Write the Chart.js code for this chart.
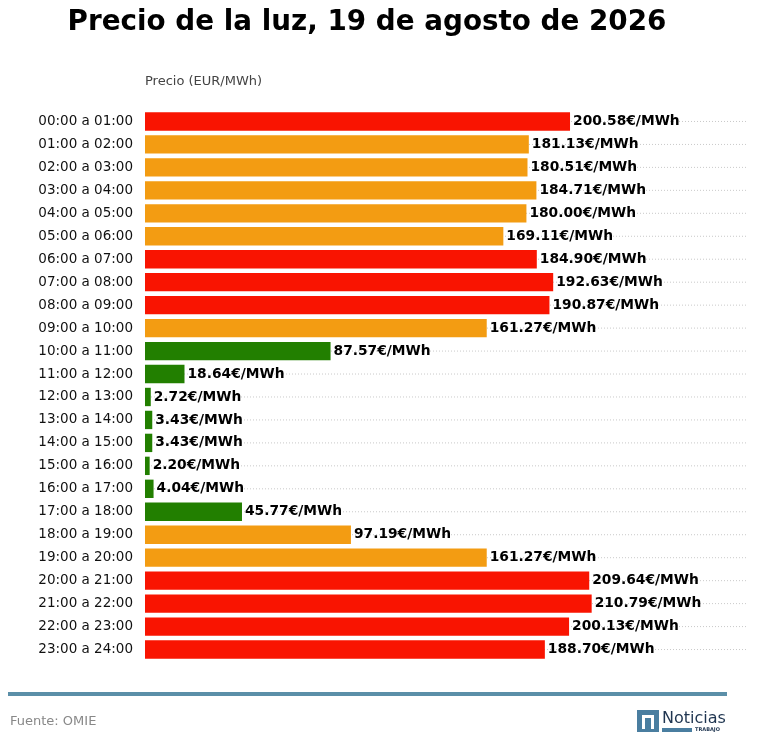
<!DOCTYPE html>
<html>
<head>
<meta charset="utf-8">
<script src="https://cdn.jsdelivr.net/npm/chart.js@4/dist/chart.umd.min.js"></script>
<style>
  html, body { margin: 0; padding: 0; background: #fff; }
  #wrap { width: 758px; height: 755px; position: relative; }
</style>
</head>
<body>
<div id="wrap"><canvas id="myChart"></canvas></div>
<script>
const hours = ['00:00 a 01:00','01:00 a 02:00','02:00 a 03:00','03:00 a 04:00','04:00 a 05:00','05:00 a 06:00',
  '06:00 a 07:00','07:00 a 08:00','08:00 a 09:00','09:00 a 10:00','10:00 a 11:00','11:00 a 12:00',
  '12:00 a 13:00','13:00 a 14:00','14:00 a 15:00','15:00 a 16:00','16:00 a 17:00','17:00 a 18:00',
  '18:00 a 19:00','19:00 a 20:00','20:00 a 21:00','21:00 a 22:00','22:00 a 23:00','23:00 a 24:00'];
const prices = [200.58,181.13,180.51,184.71,180.00,169.11,184.90,192.63,190.87,161.27,87.57,18.64,
  2.72,3.43,3.43,2.20,4.04,45.77,97.19,161.27,209.64,210.79,200.13,188.70];
const levels = ['high','mid','mid','mid','mid','mid','high','high','high','mid','low','low',
  'low','low','low','low','low','low','mid','mid','high','high','high','high'];
const levelColors = { high: '#f91401', mid: '#f39c12', low: '#227f00' };

const FONT = '"DejaVu Sans", sans-serif';

const decorPlugin = {
  id: 'decor',
  afterDraw(chart) {
    const ctx = chart.ctx;
    ctx.save();
    // title
    ctx.fillStyle = '#000';
    ctx.font = 'bold 27.8px ' + FONT;
    ctx.textAlign = 'center';
    ctx.textBaseline = 'middle';
    ctx.fillText('Precio de la luz, 19 de agosto de 2026', 367, 23);
    // axis caption
    ctx.font = '13px ' + FONT;
    ctx.fillStyle = '#444';
    ctx.textAlign = 'left';
    ctx.fillText('Precio (EUR/MWh)', 145, 82);
    // value labels
    const meta = chart.getDatasetMeta(0);
    ctx.font = 'bold 13.8px ' + FONT;
    ctx.fillStyle = '#000';
    meta.data.forEach((bar, i) => {
      ctx.fillText(prices[i].toFixed(2) + '€/MWh', bar.x + 3, bar.y);
    });
    // footer line
    ctx.strokeStyle = '#5b8fa8';
    ctx.lineWidth = 4;
    ctx.beginPath();
    ctx.moveTo(8, 694);
    ctx.lineTo(727, 694);
    ctx.stroke();
    ctx.font = '13px ' + FONT;
    ctx.fillStyle = '#888';
    ctx.fillText('Fuente: OMIE', 10, 722);
    // logo
    ctx.fillStyle = '#4a7ea0';
    ctx.fillRect(637, 710, 22, 22);
    ctx.fillStyle = '#fff';
    ctx.fillRect(642, 715, 12, 3);
    ctx.fillRect(642, 715, 3, 14);
    ctx.fillRect(651, 715, 3, 14);
    ctx.fillStyle = '#1f3550';
    ctx.font = '16px ' + FONT;
    ctx.fillText('Noticias', 662, 719);
    ctx.fillStyle = '#4a7ea0';
    ctx.fillRect(662, 728, 30, 4);
    ctx.fillStyle = '#1f3550';
    ctx.font = 'bold 5px ' + FONT;
    ctx.fillText('TRABAJO', 695, 730);
    ctx.restore();
  }
};

const ctx = document.getElementById('myChart').getContext('2d');
new Chart(ctx, {
  type: 'bar',
  data: {
    labels: hours,
    datasets: [{
      data: prices,
      backgroundColor: levels.map(l => levelColors[l]),
      borderWidth: 0,
      categoryPercentage: 1,
      barPercentage: 0.8
    }]
  },
  options: {
    indexAxis: 'y',
    responsive: true,
    maintainAspectRatio: false,
    animation: false,
    layout: { padding: { top: 110, bottom: 94, left: 0, right: 10 } },
    scales: {
      x: {
        display: false,
        min: 0,
        max: Math.max(...prices) * 1.35
      },
      y: {
        afterFit(scale) { scale.width = 145; },
        border: { display: false },
        grid: { display: false },
        ticks: {
          color: '#111',
          padding: 4,
          font: { family: FONT, size: 13.5 }
        }
      }
    },
    plugins: {
      legend: { display: false },
      tooltip: { enabled: false }
    }
  },
  plugins: [{
    id: 'dotted',
    beforeDatasetsDraw(chart) {
      const g = chart.ctx;
      g.save();
      g.strokeStyle = '#bbb';
      g.lineWidth = 0.8;
      g.setLineDash([1, 2]);
      chart.scales.y.ticks.forEach((t, i) => {
        const y = chart.scales.y.getPixelForTick(i);
        g.beginPath();
        g.moveTo(chart.chartArea.left, y);
        g.lineTo(chart.chartArea.right, y);
        g.stroke();
      });
      g.restore();
    }
  }, decorPlugin]
});
</script>
</body>
</html>
